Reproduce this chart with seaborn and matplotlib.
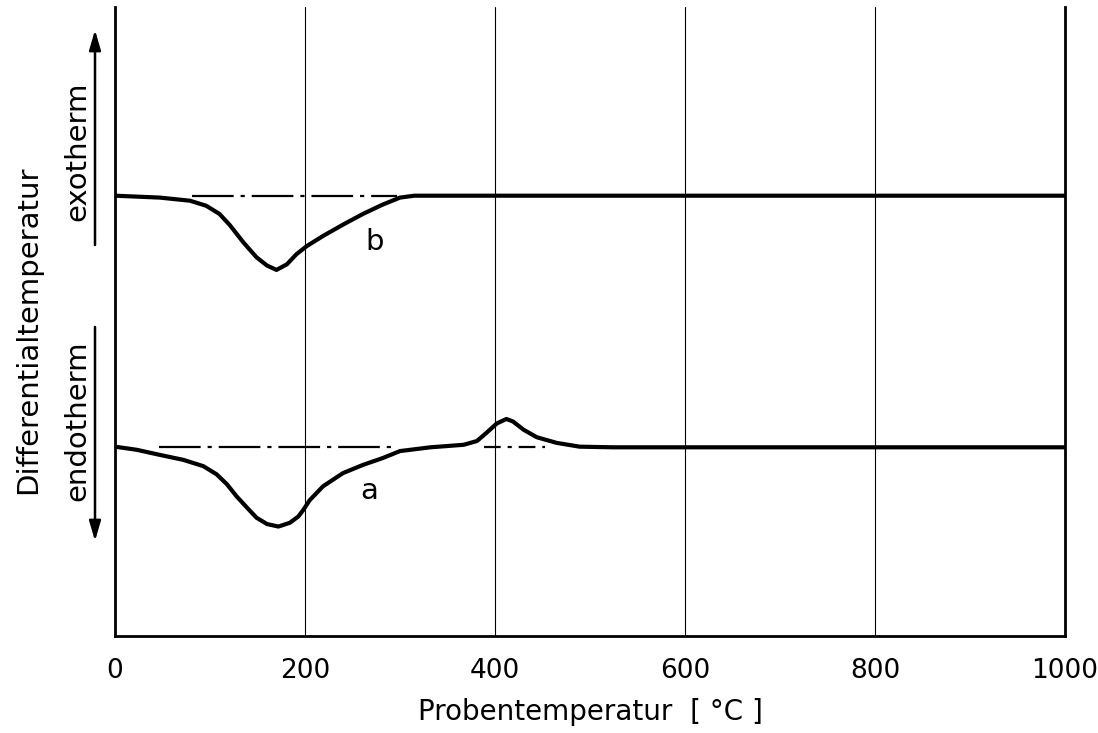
import matplotlib
matplotlib.use("Agg")
import numpy as np
import pandas as pd
import seaborn as sns
import matplotlib.pyplot as plt

# ---- data ----
temp_b = [0, 47, 79, 96, 110, 121, 135, 149, 160, 170, 181, 191, 202, 219,
          240, 261, 282, 300, 315, 1000]
dta_b = [70.0, 69.7, 69.2, 68.4, 67.1, 65.3, 62.6, 60.2, 58.9, 58.2, 59.1,
         60.7, 62.0, 63.6, 65.4, 67.1, 68.6, 69.7, 70.0, 70.0]

temp_a = [0, 23, 47, 72, 93, 107, 118, 128, 139, 149, 160, 172, 184, 193,
          198, 205, 219, 240, 261, 282, 300, 332, 367, 381, 391, 402, 412,
          419, 430, 444, 465, 489, 524, 1000]
dta_a = [30.1, 29.6, 28.8, 28.0, 27.0, 25.7, 24.1, 22.2, 20.4, 18.8, 17.8,
         17.4, 18.0, 19.0, 20.0, 21.6, 23.8, 25.9, 27.2, 28.3, 29.4, 30.0,
         30.4, 31.0, 32.3, 33.8, 34.5, 34.1, 32.8, 31.6, 30.7, 30.1, 30.0, 30.0]

# dash-dot baselines (start, end temperature) and level
base_b_x = [81, 297]
base_b_y = [70.0, 70.0]
base_a1_x = [46, 291]
base_a2_x = [388, 453]
base_a_y = [30.0, 30.0]

xticks = [0, 200, 400, 600, 800, 1000]
xtick_labels = ["0", "200", "400", "600", "800", "1000"]
curve_labels = ["a", "b"]
label_pos_x = [268, 273]
label_pos_y = [23.0, 62.6]

xlabel = "Probentemperatur  [ °C ]"
ylabel = "Differentialtemperatur"

# ---- styling ----
sns.set_style("white")
plt.rcParams["font.family"] = ["DejaVu Sans"]
plt.rcParams["lines.scale_dashes"] = False
for k in ["text.color", "axes.labelcolor", "xtick.color", "ytick.color"]:
    plt.rcParams[k] = "black"

fig = plt.figure(figsize=(10.98, 7.33), dpi=100)
ax = fig.add_axes([115 / 1098, 97 / 733, 950 / 1098, 629 / 733])

df_a = pd.DataFrame({"T": temp_a, "dT": dta_a})
df_b = pd.DataFrame({"T": temp_b, "dT": dta_b})

sns.lineplot(data=df_b, x="T", y="dT", ax=ax, color="black", lw=3.0,
             sort=False, estimator=None)
sns.lineplot(data=df_a, x="T", y="dT", ax=ax, color="black", lw=3.0,
             sort=False, estimator=None)
for ln in ax.lines:
    ln.set_solid_joinstyle("round")

dash = (0, (30, 5, 3, 5))
ax.plot(base_b_x, base_b_y, color="black", lw=1.6, ls=dash)
ax.plot(base_a1_x, base_a_y, color="black", lw=1.6, ls=dash)
ax.plot(base_a2_x, base_a_y, color="black", lw=1.6, ls=(0, (12, 5, 3, 5)))

for lab, lx, ly in zip(curve_labels, label_pos_x, label_pos_y):
    ax.text(lx, ly, lab, fontsize=21, ha="center", va="center")

ax.set_xlim(0, 1000)
ax.set_ylim(0, 100)
ax.set_xticks(xticks)
ax.set_xticklabels(xtick_labels, fontsize=19)
ax.set_yticks([])
ax.tick_params(axis="x", length=0, pad=16)
ax.set_xlabel(xlabel, fontsize=20, labelpad=10)
ax.set_ylabel("")

for g in xticks[1:-1]:
    ax.axvline(g, color="black", lw=0.8, zorder=0)

for side in ["left", "bottom", "right"]:
    ax.spines[side].set_visible(True)
    ax.spines[side].set_color("black")
    ax.spines[side].set_linewidth(2.0)
ax.spines["top"].set_visible(False)

# y-axis annotations (figure pixel coordinates)
H = 733
fig.text(28 / 1098, (H - 330) / H, ylabel, rotation=90, fontsize=21,
         ha="center", va="center")
fig.text(77 / 1098, (H - 151) / H, "exotherm", rotation=90, fontsize=21,
         ha="center", va="center")
fig.text(77 / 1098, (H - 421) / H, "endotherm", rotation=90, fontsize=21,
         ha="center", va="center")
ax.annotate("", xy=(95, H - 30), xytext=(95, H - 245),
            xycoords="figure pixels", textcoords="figure pixels",
            arrowprops=dict(arrowstyle="-|>,head_length=1.2,head_width=0.35",
                            color="black", lw=1.8, shrinkA=0, shrinkB=0))
ax.annotate("", xy=(95, H - 541), xytext=(95, H - 327),
            xycoords="figure pixels", textcoords="figure pixels",
            arrowprops=dict(arrowstyle="-|>,head_length=1.2,head_width=0.35",
                            color="black", lw=1.8, shrinkA=0, shrinkB=0))

fig.savefig("out.png", dpi=100)
